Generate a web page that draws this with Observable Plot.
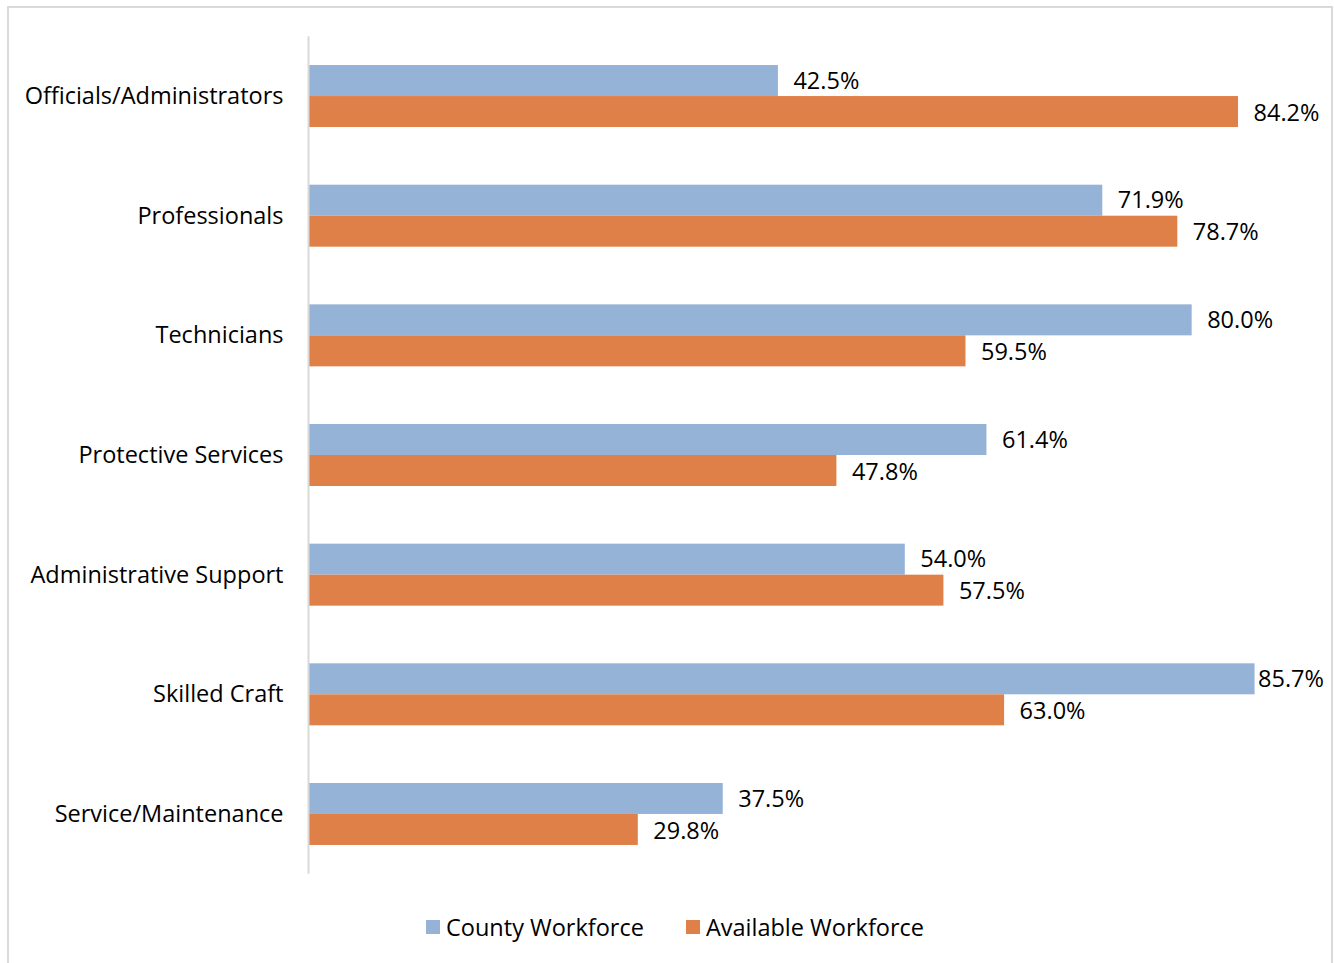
<!DOCTYPE html>
<html>
<head>
<meta charset="utf-8">
<script src="https://cdn.jsdelivr.net/npm/d3@7"></script>
<script src="https://cdn.jsdelivr.net/npm/@observablehq/plot@0.6"></script>
<style>
  html, body { margin: 0; padding: 0; background: #fff; }
  #wrap { position: relative; width: 1334px; height: 963px; overflow: hidden; font-family: "Open Sans", Lato, sans-serif; }
  #border { position: absolute; left: 7px; top: 6px; width: 1326px; height: 970px; box-sizing: border-box; border: 2px solid #d9d9d9; }
  #chart { position: absolute; left: 0; top: 0; }
  #legend { position: absolute; left: 426px; top: 911px; display: flex; align-items: center; font-size: 23.5px; color: #000; }
  #legend .item { display: flex; align-items: center; margin-right: 42px; }
  #legend .sw { width: 14px; height: 14px; margin-right: 6px; }
</style>
</head>
<body>
<div id="wrap">
  <div id="border"></div>
  <div id="chart"></div>
  <div id="legend"></div>
</div>
<script>
const categories = ["Officials/Administrators", "Professionals", "Technicians", "Protective Services", "Administrative Support", "Skilled Craft", "Service/Maintenance"];
const series = ["County Workforce", "Available Workforce"];
const countyValues = [42.5, 71.9, 80.0, 61.4, 54.0, 85.7, 37.5];
const availableValues = [84.2, 78.7, 59.5, 47.8, 57.5, 63.0, 29.8];
const colors = ["#95b3d7", "#de8048"];

const county = categories.map((c, i) => ({category: c, value: countyValues[i]}));
const available = categories.map((c, i) => ({category: c, value: availableValues[i]}));
const fmt = d => d.value.toFixed(1) + "%";
const FONT = "'Open Sans', Lato, sans-serif";
const FS = 23.5;
const HALF = 31; // half of the category band (one bar's thickness)

const labelOpts = (dy, dx) => ({y: "category", x: "value", text: fmt, textAnchor: "start", dx, dy, fill: "#000", fontSize: FS});

const chart = Plot.plot({
  width: 1334,
  height: 900,
  marginTop: 36.2,
  marginBottom: 26.2,
  marginLeft: 309,
  marginRight: 32,
  style: {fontFamily: FONT, fontSize: FS + "px", color: "#000", background: "transparent"},
  x: {domain: [0, 90], axis: null},
  y: {domain: categories, paddingInner: 0.482, paddingOuter: 0.241, round: false, axis: null},
  marks: [
    Plot.barX(county, {y: "category", x: "value", fill: colors[0], insetBottom: HALF}),
    Plot.barX(available, {y: "category", x: "value", fill: colors[1], insetTop: HALF}),
    Plot.ruleX([0], {stroke: "#d9d9d9", strokeWidth: 2, dx: -1}),
    Plot.text(county.filter(d => d.value < 85), labelOpts(-HALF / 2, 15)),
    Plot.text(county.filter(d => d.value >= 85), labelOpts(-HALF / 2, 3)),
    Plot.text(available, labelOpts(HALF / 2 + 1, 15)),
    Plot.axisY({anchor: "left", tickSize: 0, tickPadding: 26, label: null, fontSize: FS, fill: "#000"})
  ]
});
document.getElementById("chart").appendChild(chart);

const legend = document.getElementById("legend");
series.forEach((s, i) => {
  const item = document.createElement("div");
  item.className = "item";
  const sw = document.createElement("div");
  sw.className = "sw";
  sw.style.background = colors[i];
  const label = document.createElement("span");
  label.textContent = s;
  item.appendChild(sw);
  item.appendChild(label);
  legend.appendChild(item);
});
</script>
</body>
</html>
